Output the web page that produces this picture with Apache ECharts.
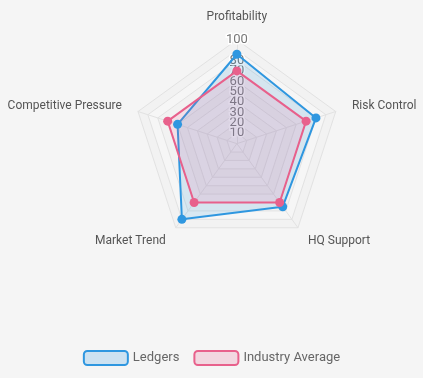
<!DOCTYPE html>
<html>
<head>
<meta charset="utf-8">
<style>
  html, body { margin: 0; padding: 0; background: #f5f5f5; }
  #main { width: 423px; height: 378px; }
</style>
<script src="https://cdn.jsdelivr.net/npm/echarts@6/dist/echarts.min.js"></script>
</head>
<body>
<div id="main"></div>
<script>
// indicators run counter-clockwise from the top
const indicators = ['Profitability', 'Competitive Pressure', 'Market Trend', 'HQ Support', 'Risk Control'];
const ledgers = [86, 60, 90, 75, 80];
const industryAverage = [70, 70, 70, 70, 70];
const seriesNames = ['Ledgers', 'Industry Average'];
const blue = '#2f97e0';
const pink = '#e8618c';

const myChart = echarts.init(document.getElementById('main'));

myChart.setOption({
  backgroundColor: '#f5f5f5',
  color: [blue, pink],
  textStyle: { fontFamily: 'Roboto' },
  legend: {
    data: [
      { name: seriesNames[0], itemStyle: { color: 'rgba(47,151,224,0.2)', borderColor: blue, borderWidth: 2 } },
      { name: seriesNames[1], itemStyle: { color: 'rgba(232,97,140,0.2)', borderColor: pink, borderWidth: 2 } }
    ],
    bottom: 7,
    left: 'center',
    itemWidth: 44,
    itemHeight: 14,
    itemGap: 14,
    textStyle: { color: '#666', fontSize: 13, fontFamily: 'Roboto' }
  },
  radar: {
    center: ['56%', '38%'],
    radius: '55%',
    startAngle: 90,
    splitNumber: 10,
    shape: 'polygon',
    indicator: indicators.map((name, i) => ({
      name: name, max: 100, min: 0,
      axisLabel: i === 0 ? {
        show: true,
        showMaxLabel: true,
        hideOverlap: false,
        align: 'center',
        margin: 0,
        color: '#777',
        fontSize: 13,
        fontFamily: 'Roboto',
        textBorderColor: '#fff',
        textBorderWidth: 3
      } : { show: false }
    })),
    axisName: { color: '#555', fontSize: 12, fontFamily: 'Roboto' },
    nameGap: 17,
    axisLine: { lineStyle: { color: '#e2e2e2' } },
    splitLine: { lineStyle: { color: '#e2e2e2' } },
    splitArea: {
      show: true,
      areaStyle: { color: ['rgba(255,255,255,0.15)', 'rgba(230,230,230,0.15)'] }
    }
  },
  series: [
    {
      type: 'radar',
      symbol: 'circle',
      symbolSize: 9,
      data: [
        {
          name: seriesNames[0],
          value: ledgers,
          lineStyle: { width: 2 },
          areaStyle: { opacity: 0.15 }
        },
        {
          name: seriesNames[1],
          value: industryAverage,
          lineStyle: { width: 2 },
          areaStyle: { opacity: 0.15 }
        }
      ]
    }
  ]
});
</script>
</body>
</html>
